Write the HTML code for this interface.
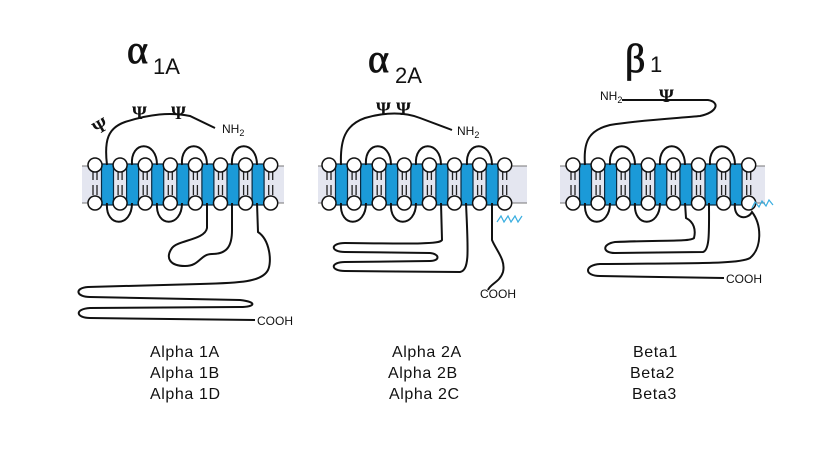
<!DOCTYPE html>
<html><head><meta charset="utf-8"><style>
html,body{margin:0;padding:0;background:#fff;}
svg{display:block}
.lbl{font-family:"Liberation Sans",sans-serif;font-size:16px;fill:#111;letter-spacing:0.6px}
.sm{font-family:"Liberation Sans",sans-serif;font-size:12px;fill:#111}
.ttl{font-family:"Liberation Serif",serif;font-size:40px;fill:#111;stroke:#111;stroke-width:0.8}
.sub{font-family:"Liberation Sans",sans-serif;font-size:22px;fill:#111}
.psi{font-family:"Liberation Serif",serif;font-size:19px;font-weight:bold;fill:#111}
.ln{fill:none;stroke:#111;stroke-width:2}
</style></head><body>
<svg width="815" height="450" viewBox="0 0 815 450" xmlns="http://www.w3.org/2000/svg">
<rect width="815" height="450" fill="#fff"/>
<!-- titles -->
<text class="ttl" x="127" y="63">α</text>
<text class="sub" x="153" y="74">1A</text>
<text class="ttl" x="368" y="72">α</text>
<text class="sub" x="395" y="83">2A</text>
<text class="ttl" x="625" y="72">β</text>
<text class="sub" x="650" y="72">1</text>

<g id="m1"></g><g id="m2"></g><g id="m3"></g>

<!-- Receptor 1 loops -->
<path class="ln" d="M107,165 C104,140 108,128 125,122 C150,114 170,112 190,116 L215,128"/>
<path class="ln" d="M132,165 C130,140 157,140 157,165"/>
<path class="ln" d="M182,165 C180,140 207,140 207,165"/>
<path class="ln" d="M232,165 C230,140 257,140 257,165"/>
<path class="ln" d="M107,203 C105,228 132,228 132,203"/>
<path class="ln" d="M157,203 C155,228 182,228 182,203"/>
<path class="ln" d="M207,203 L207,228 C205,240 178,240 172,248 C165,258 170,266 185,266 C200,266 200,254 212,254 C228,254 232,245 232,230 L232,203"/>
<path class="ln" d="M257,203 L258,232 C270,240 272,262 268,270 C262,282 240,283 200,284 L88,287 C74,288 76,297 90,297 L240,300 C258,302 255,307 240,307 L90,308 C74,309 76,318 90,318 L255,320"/>
<text class="sm" x="222" y="133">NH<tspan font-size="9" dy="3">2</tspan></text>
<text class="sm" x="257" y="325">COOH</text>

<!-- Receptor 2 loops -->
<path class="ln" d="M341,165 C340,140 345,125 365,118 C385,112 405,112 420,118 L452,130"/>
<path class="ln" d="M366,165 C364,140 391,140 391,165"/>
<path class="ln" d="M416,165 C414,140 441,140 441,165"/>
<path class="ln" d="M467,165 C465,140 492,140 492,165"/>
<path class="ln" d="M341,203 C339,228 366,228 366,203"/>
<path class="ln" d="M391,203 C389,228 416,228 416,203"/>
<path class="ln" d="M441,203 L442,240 C440,244 420,244 345,243 C330,243 330,252 345,252 L430,253 C440,254 440,261 430,261 L345,262 C330,262 330,271 345,271 L460,272 C470,270 468,250 466,203"/>
<path class="ln" d="M492,203 L492,240 C496,250 506,260 503,272 C500,282 490,284 488,290"/>
<text class="sm" x="457" y="135">NH<tspan font-size="9" dy="3">2</tspan></text>
<text class="sm" x="480" y="298">COOH</text>

<!-- Receptor 3 loops -->
<path class="ln" d="M585,165 C583,140 590,130 610,125 C640,120 680,118 700,116 C718,112 720,102 708,100 L622,100"/>
<path class="ln" d="M610,165 C608,140 635,140 635,165"/>
<path class="ln" d="M660,165 C658,140 685,140 685,165"/>
<path class="ln" d="M710,165 C708,140 735,140 735,165"/>
<path class="ln" d="M585,203 C583,228 610,228 610,203"/>
<path class="ln" d="M635,203 C633,228 660,228 660,203"/>
<path class="ln" d="M685,203 L686,218 C694,222 696,230 694,238 C690,242 660,240 615,242 C602,244 602,253 615,253 L703,252 C710,250 709,230 709,203"/>
<path class="ln" d="M735,203 C733,220 748,220 752,212 C762,225 762,248 750,258 C740,264 700,263 600,264 C584,265 584,276 600,276 L724,278"/>
<text class="sm" x="600" y="100">NH<tspan font-size="9" dy="3">2</tspan></text>
<text class="sm" x="726" y="283">COOH</text>

<!-- glycosylation psi -->
<text class="psi" x="93" y="132" transform="rotate(-30 101 126)">Ψ</text>
<text class="psi" x="132" y="119">Ψ</text>
<text class="psi" x="171" y="119">Ψ</text>
<text class="psi" x="376" y="115">Ψ</text>
<text class="psi" x="396" y="115">Ψ</text>
<text class="psi" x="659" y="102">Ψ</text>
<!-- palmitoyl squiggles -->
<path d="M497,222 l4,-6 l3,6 l4,-6 l3,6 l4,-6 l3,6 l4,-6" fill="none" stroke="#3aaee0" stroke-width="1.2"/>
<path d="M752,208 l3,-6 l4,5 l3,-6 l4,5 l3,-6 l4,5" fill="none" stroke="#3aaee0" stroke-width="1.2"/>

<g class="lbl">
<text x="150" y="357">Alpha 1A</text>
<text x="150" y="378">Alpha 1B</text>
<text x="150" y="399">Alpha 1D</text>
<text x="392" y="357">Alpha 2A</text>
<text x="388" y="378">Alpha 2B</text>
<text x="389" y="399">Alpha 2C</text>
<text x="633" y="357">Beta1</text>
<text x="630" y="378">Beta2</text>
<text x="632" y="399">Beta3</text>
</g>
</svg>
<script>
(function(){
 var ns="http://www.w3.org/2000/svg";
 function el(g,t,a){var e=document.createElementNS(ns,t);for(var k in a)e.setAttribute(k,a[k]);g.appendChild(e);return e;}
 function mem(id,x0,x1,c0){
  var g=document.getElementById(id);
  el(g,"rect",{x:x0,y:166,width:x1-x0,height:37,fill:"#e4e6f0"});
  el(g,"line",{x1:x0,y1:166,x2:x1,y2:166,stroke:"#777","stroke-width":1});
  el(g,"line",{x1:x0,y1:203,x2:x1,y2:203,stroke:"#777","stroke-width":1});
  for(var i=0;i<8;i++){
   var cx=c0+i*25.1;
   el(g,"line",{x1:cx-2,y1:170,x2:cx-2,y2:199,stroke:"#222","stroke-width":1.3,"stroke-dasharray":"10 5"});
   el(g,"line",{x1:cx+2,y1:170,x2:cx+2,y2:199,stroke:"#222","stroke-width":1.3,"stroke-dasharray":"10 5"});
  }
  for(var i=0;i<7;i++){
   var hx=c0+12.5+i*25.1;
   el(g,"rect",{x:hx-6,y:164,width:12,height:41,fill:"#1b9ad8",stroke:"#0a2a40","stroke-width":1.2});
  }
  for(var i=0;i<8;i++){
   var cx=c0+i*25.1;
   el(g,"circle",{cx:cx,cy:165,r:7,fill:"#fff",stroke:"#111","stroke-width":1.5});
   el(g,"circle",{cx:cx,cy:203,r:7,fill:"#fff",stroke:"#111","stroke-width":1.5});
  }
 }
 mem("m1",82,284,95);
 mem("m2",318,527,329);
 mem("m3",560,765,573);
})();
</script>
</body></html>
